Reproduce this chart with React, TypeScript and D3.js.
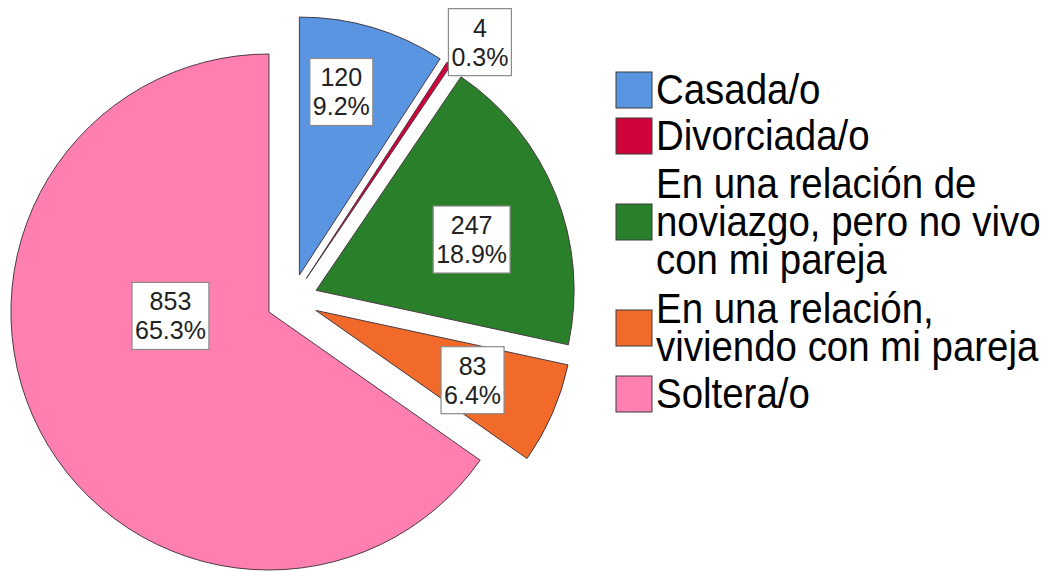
import React, { useMemo } from 'react';
import * as d3 from 'd3';

const categories = [
  'Casada/o',
  'Divorciada/o',
  'En una relación de noviazgo, pero no vivo con mi pareja',
  'En una relación, viviendo con mi pareja',
  'Soltera/o',
];
const counts = [120, 4, 247, 83, 853];
const legendLines = [
  ['Casada/o'],
  ['Divorciada/o'],
  ['En una relación de', 'noviazgo, pero no vivo', 'con mi pareja'],
  ['En una relación,', 'viviendo con mi pareja'],
  ['Soltera/o'],
];
const colors = ['#5A95E2', '#D0023A', '#2A7F2B', '#F26A2A', '#FF80B0'];

// where each value box sits: angle (deg, clockwise from 12 o'clock) and fraction of radius
const labelAngles = [12.9, 36.3, 71.9, 114, 267.7];
const labelRadii = [0.728, 1.136, 0.634, 0.665, 0.382];

const WIDTH = 1054;
const HEIGHT = 572;
const CX = 292;
const CY = 300;
const RADIUS = 258;
const EXPLODE = 26;
const LABEL_FONT = 25;
const LEGEND_FONT = 42;
const FONT = "'Liberation Sans', Arial, sans-serif";

function measure(text: string, size: number) {
  const canvas = document.createElement('canvas');
  const ctx = canvas.getContext('2d');
  if (!ctx) return text.length * size * 0.55;
  ctx.font = `${size}px ${FONT}`;
  return ctx.measureText(text).width;
}

export default function App() {
  const total = d3.sum(counts);

  const arcs = useMemo(
    () =>
      d3
        .pie<number>()
        .sort(null)
        .startAngle(0)
        .endAngle(2 * Math.PI)(counts),
    []
  );
  const arcGen = d3.arc<d3.PieArcDatum<number>>().innerRadius(0).outerRadius(RADIUS);

  // legend layout
  const swatch = 36;
  const lineStep = 40;
  const itemGap = 6;
  const centers: number[] = [];
  legendLines.forEach((lines, i) => {
    if (i === 0) centers.push(90);
    else {
      const prev = legendLines[i - 1].length;
      centers.push(centers[i - 1] + ((prev + lines.length) / 2) * lineStep + itemGap);
    }
  });

  return (
    <div style={{ position: 'absolute', left: 0, top: 0 }}>
      <svg width={WIDTH} height={HEIGHT} style={{ display: 'block', background: '#fff' }}>
        <g transform={`translate(${CX},${CY})`}>
          {arcs.map((a, i) => {
            const mid = (a.startAngle + a.endAngle) / 2;
            const ox = Math.sin(mid) * EXPLODE;
            const oy = -Math.cos(mid) * EXPLODE;
            return (
              <path
                key={categories[i]}
                d={arcGen(a) as string}
                transform={`translate(${ox},${oy})`}
                fill={colors[i]}
                stroke="#4a3a44"
                strokeWidth={1}
                strokeLinejoin="miter"
              />
            );
          })}
          {arcs.map((a, i) => {
            const mid = (a.startAngle + a.endAngle) / 2;
            const ox = Math.sin(mid) * EXPLODE;
            const oy = -Math.cos(mid) * EXPLODE;
            const ang = (labelAngles[i] * Math.PI) / 180;
            const lx = ox + Math.sin(ang) * RADIUS * labelRadii[i];
            const ly = oy - Math.cos(ang) * RADIUS * labelRadii[i];
            const line1 = String(counts[i]);
            const line2 = `${((counts[i] / total) * 100).toFixed(1)}%`;
            const w = Math.max(measure(line1, LABEL_FONT), measure(line2, LABEL_FONT)) + 6;
            const h = 67;
            return (
              <g key={`lab-${i}`} transform={`translate(${lx},${ly})`}>
                <rect
                  x={-w / 2}
                  y={-h / 2}
                  width={w}
                  height={h}
                  fill="#fff"
                  stroke="#8a8a8a"
                  strokeWidth={1.2}
                />
                <text
                  textAnchor="middle"
                  fontFamily={FONT}
                  fontSize={LABEL_FONT}
                  fill="#222"
                >
                  <tspan x={0} y={-5.5}>
                    {line1}
                  </tspan>
                  <tspan x={0} y={23.5}>
                    {line2}
                  </tspan>
                </text>
              </g>
            );
          })}
        </g>
        <g>
          {legendLines.map((lines, i) => {
            const cy = centers[i];
            return (
              <g key={`leg-${i}`}>
                <rect
                  x={616}
                  y={cy - swatch / 2}
                  width={swatch}
                  height={swatch}
                  fill={colors[i]}
                  stroke="#3a3a3a"
                  strokeWidth={1}
                />
                {lines.map((ln, k) => {
                  const y = cy + 14 + (k - (lines.length - 1) / 2) * 38;
                  return (
                    <text
                      key={ln}
                      transform={`translate(656,${y}) scale(0.915,1)`}
                      fontFamily={FONT}
                      fontSize={LEGEND_FONT}
                      fill="#000"
                    >
                      {ln}
                    </text>
                  );
                })}
              </g>
            );
          })}
        </g>
      </svg>
    </div>
  );
}
